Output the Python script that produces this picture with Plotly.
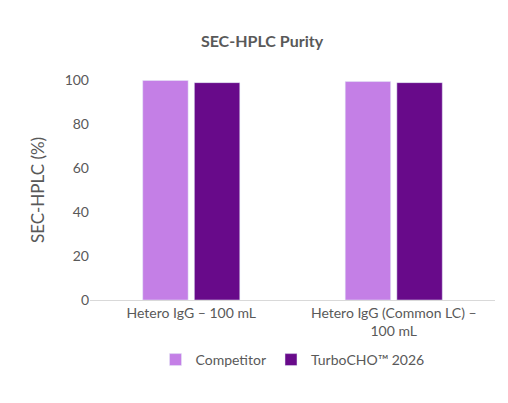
import plotly.graph_objects as go

categories = ["Hetero IgG – 100 mL", "Hetero IgG (Common LC) –<br>100 mL"]
competitor = [99.8, 99.3]
turbo = [98.8, 98.8]
yticks = [0, 20, 40, 60, 80, 100]

fig = go.Figure()
fig.add_bar(x=categories, y=competitor, name="Competitor", marker_color="#C47FE6")
fig.add_bar(x=categories, y=turbo, name="TurboCHO™ 2026", marker_color="#680A8A")
fig.update_layout(
    width=508, height=403, margin=dict(l=82, r=21, t=72, b=111),
    paper_bgcolor="white", plot_bgcolor="white",
    font=dict(family="Lato, Open Sans, sans-serif", color="#595959", size=14),
    title=dict(text="<b>SEC-HPLC Purity</b>", x=0.5, xanchor="center", y=0.93, font=dict(size=16, color="#595959")),
    barmode="group", bargap=0.49, bargroupgap=0.12,
    legend=dict(orientation="h", x=0.5, xanchor="center", y=-0.2, yanchor="top", font=dict(size=14),
                itemwidth=30, tracegroupgap=0),
    showlegend=True,
)
fig.update_yaxes(range=[0, 100], tickvals=yticks, showgrid=False, zeroline=False,
                 title=dict(text="SEC-HPLC (%)", font=dict(size=17)), ticks="")
fig.update_xaxes(showline=True, linecolor="#D9D9D9", linewidth=1, ticks="")
fig.write_html("out.html")
